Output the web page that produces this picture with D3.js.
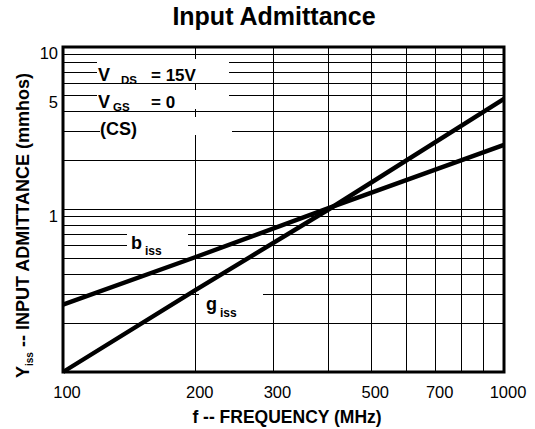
<!DOCTYPE html>
<html>
<head>
<meta charset="utf-8">
<script src="https://cdn.jsdelivr.net/npm/d3@7"></script>
<style>
  html, body { margin: 0; padding: 0; background: #fff; }
  svg { display: block; font-family: "Liberation Sans", Arial, sans-serif; }
</style>
</head>
<body>
<svg id="chart" width="535" height="429"></svg>
<script>
// ---- data ----
const freq = [100, 200, 400, 1000];            // MHz
const biss = [0.26, 0.51, 1.02, 2.5];          // mmhos
const giss = [0.1, 0.32, 1.0, 4.8];            // mmhos
const xTicks = [100, 200, 300, 500, 700, 1000];
const yTicks = [1, 5, 10];
const xGrid = [200, 300, 400, 500, 600, 700, 800, 900];
const yGrid = [0.2, 0.3, 0.4, 0.5, 0.6, 0.7, 0.8, 0.9, 1, 2, 3, 4, 5, 6, 7, 8, 9];

const svg = d3.select("#chart");
const L = 63, R = 504, T = 47, B = 372;

const x = d3.scaleLog().domain([100, 1000]).range([L, R]);
const y = d3.scaleLog().domain([0.1, 10]).range([B, T]);

// title
svg.append("text").attr("x", 274).attr("y", 25).attr("text-anchor", "middle")
  .attr("font-size", 25).attr("font-weight", "bold").text("Input Admittance");

// grid
const grid = svg.append("g").attr("stroke", "#000").attr("stroke-width", 1)
  .attr("shape-rendering", "crispEdges");
grid.selectAll("line.h").data(yGrid).join("line").attr("class", "h")
  .attr("x1", L).attr("x2", R).attr("y1", d => y(d)).attr("y2", d => y(d));
grid.selectAll("line.v").data(xGrid).join("line").attr("class", "v")
  .attr("y1", T).attr("y2", B).attr("x1", d => x(d)).attr("x2", d => x(d));

// white label backgrounds interrupting the grid
const gaps = [
  [97, 59, 132, 24], [97, 90, 132, 19], [100, 117, 132, 18],
  [127, 229, 61, 23], [199, 285, 64, 35]
];
svg.append("g").selectAll("rect").data(gaps).join("rect")
  .attr("x", d => d[0]).attr("y", d => d[1]).attr("width", d => d[2]).attr("height", d => d[3])
  .attr("fill", "#fff");

// annotation text
const ann = svg.append("g").attr("font-weight", "bold").attr("fill", "#000");
function labelSub(g, x0, yb, main, sub, subX, subDy, fs, sfs) {
  g.append("text").attr("x", x0).attr("y", yb).attr("font-size", fs).text(main);
  g.append("text").attr("x", subX).attr("y", yb + subDy).attr("font-size", sfs).text(sub);
}
labelSub(ann, 98, 81, "V", "DS", 121, 3, 18, 11.5);
ann.append("text").attr("x", 151).attr("y", 81).attr("font-size", 17).text("= 15V");
labelSub(ann, 98, 108, "V", "GS", 113, 3, 18, 11.5);
ann.append("text").attr("x", 151).attr("y", 108).attr("font-size", 17).text("= 0");
ann.append("text").attr("x", 100).attr("y", 135).attr("font-size", 18).text("(CS)");
labelSub(ann, 131, 249, "b", "iss", 145, 6, 18, 12);
labelSub(ann, 206, 310, "g", "iss", 220, 7, 18, 12);

// data lines
const line = d3.line().x(d => x(d[0])).y(d => y(d[1]));
svg.append("path").datum(d3.zip(freq, biss)).attr("d", line)
  .attr("fill", "none").attr("stroke", "#000").attr("stroke-width", 4.4);
svg.append("path").datum(d3.zip(freq, giss)).attr("d", line)
  .attr("fill", "none").attr("stroke", "#000").attr("stroke-width", 4.4);

// frame
svg.append("rect").attr("x", L).attr("y", T).attr("width", R - L).attr("height", B - T)
  .attr("fill", "none").attr("stroke", "#000").attr("stroke-width", 3);

// axes
const xAxis = svg.append("g").attr("transform", `translate(0,${B})`)
  .call(d3.axisBottom(x).tickValues(xTicks).tickFormat(d3.format("d")).tickSize(0));
xAxis.select(".domain").remove();
xAxis.selectAll("text").attr("y", 26).attr("dy", 0).attr("dx", 3.5)
  .attr("font-size", 16.5).attr("font-family", "Liberation Sans, Arial, sans-serif").attr("fill", "#000");

const yAxis = svg.append("g").attr("transform", `translate(${L},0)`)
  .call(d3.axisLeft(y).tickValues(yTicks).tickFormat(d3.format("d")).tickSize(0));
yAxis.select(".domain").remove();
yAxis.selectAll("text").attr("x", -5).attr("dy", 0).attr("y", 11.5)
  .attr("font-size", 16.5).attr("font-family", "Liberation Sans, Arial, sans-serif").attr("fill", "#000");

// axis titles
svg.append("text").attr("x", 287).attr("y", 423).attr("text-anchor", "middle")
  .attr("font-size", 17.5).attr("font-weight", "bold").text("f -- FREQUENCY (MHz)");

const yl = svg.append("text").attr("transform", "translate(29,378) rotate(-90)")
  .attr("font-weight", "bold").attr("font-size", 18);
yl.append("tspan").text("Y");
yl.append("tspan").attr("font-size", 10).attr("dy", 4).text("iss");
yl.append("tspan").attr("dy", -4).text(" -- INPUT ADMITTANCE (mmhos)");
</script>
</body>
</html>
